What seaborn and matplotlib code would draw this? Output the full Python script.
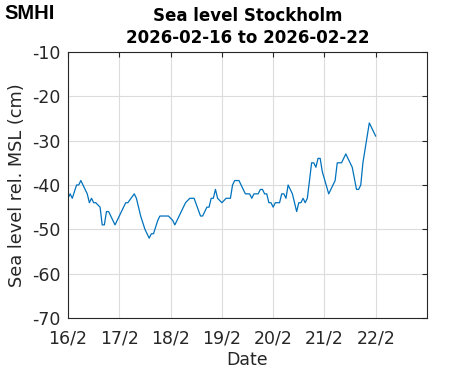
import matplotlib
matplotlib.use("Agg")
import matplotlib.pyplot as plt
import seaborn as sns
import pandas as pd

# hours after 2026-02-16 00:00 and sea level (cm)
hours = [0, 1, 2, 4, 5, 6, 7, 9, 10, 11, 12, 13, 15, 16, 17, 18, 19, 22, 25, 27,
         28, 31, 32, 34, 36, 38, 39, 40, 42, 43, 45, 47, 49, 50, 53, 55, 57, 59,
         62, 63, 65, 66, 67, 68, 69, 70, 72, 74, 76, 77, 78, 80, 83, 85, 86, 87,
         89, 90, 91, 92, 93, 94, 95, 96, 97, 99, 100, 101, 102, 103, 105, 106,
         107, 108, 109, 110, 111, 112, 114, 115, 116, 117, 118, 119, 122, 125,
         126, 128, 130, 133, 135, 136, 137, 138, 141, 144]
level = [-43, -42, -43, -40, -40, -39, -40, -42, -44, -43, -44, -44, -45, -49,
         -49, -46, -46, -49, -46, -44, -44, -42, -43, -47, -50, -52, -51, -51,
         -48, -47, -47, -47, -48, -49, -46, -44, -43, -43, -47, -47, -45, -45,
         -43, -43, -41, -43, -44, -43, -43, -40, -39, -39, -42, -42, -43, -42,
         -42, -41, -41, -42, -42, -44, -44, -45, -44, -44, -42, -42, -43, -40,
         -42, -44, -46, -44, -44, -43, -44, -43, -35, -35, -36, -34, -34, -37,
         -42, -39, -35, -35, -33, -36, -41, -41, -40, -35, -26, -29]
date_labels = ["16/2", "17/2", "18/2", "19/2", "20/2", "21/2", "22/2"]
y_ticks = [-70, -60, -50, -40, -30, -20, -10]

df = pd.DataFrame({"day": [h / 24 for h in hours], "level": level})

sns.set_style("white")
plt.rcParams["font.family"] = ["DejaVu Sans"]

fig = plt.figure(figsize=(4.71, 3.71), dpi=100)
ax = fig.add_axes([0.1444, 0.1429, 0.7622, 0.717])

sns.lineplot(data=df, x="day", y="level", ax=ax, color="#0072BD", linewidth=0.9)

ax.set_xlim(0, 7)
ax.set_ylim(-70, -10)
ax.set_xticks(range(len(date_labels)))
ax.set_xticklabels(date_labels)
ax.set_yticks(y_ticks)
ax.set_yticklabels([str(v) for v in y_ticks])
ax.grid(True, color="#dcdcdc", linewidth=0.8)
ax.tick_params(direction="in", length=3.6, width=0.8, labelsize=12.5,
               top=True, right=True, color="#262626", labelcolor="#262626")
ax.tick_params(axis="x", pad=8.5)
ax.tick_params(axis="y", pad=5.5)
for s in ax.spines.values():
    s.set_color("#262626")
    s.set_linewidth(0.8)

ax.set_xlabel("Date", fontsize=12.5, labelpad=2.5, color="#262626")
ax.set_ylabel("Sea level rel. MSL (cm)", fontsize=12.8, labelpad=4.5, color="#262626")
ax.set_title("Sea level Stockholm\n2026-02-16 to 2026-02-22", color="black",
             fontsize=12, fontweight="bold", linespacing=1.3, pad=6.5)

# logo
fig.text(0.010, 0.990, "SMHI", fontsize=14.5, fontweight="heavy", va="top",
         ha="left", color="black", family=["Liberation Sans Narrow", "Liberation Sans"])

fig.savefig("out.png", dpi=100)
